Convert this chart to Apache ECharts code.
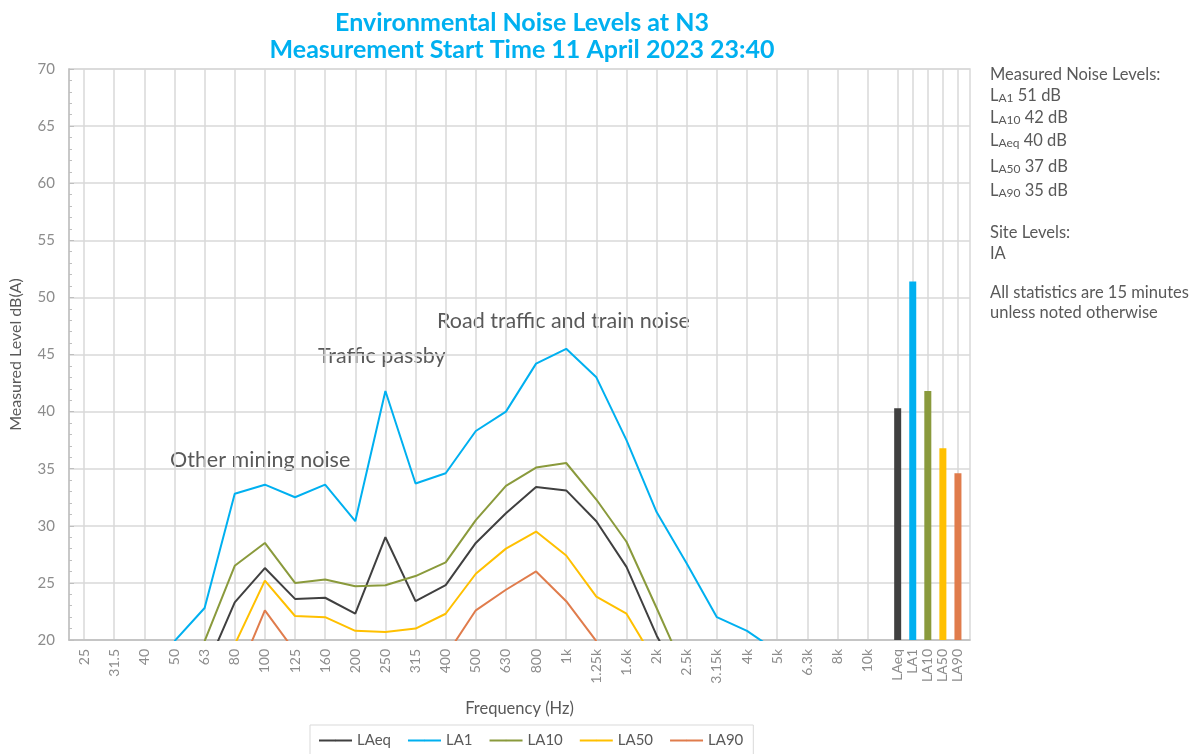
<!DOCTYPE html>
<html>
<head>
<meta charset="utf-8">
<script src="https://cdn.jsdelivr.net/npm/echarts@6/dist/echarts.min.js"></script>
<style>html,body{margin:0;padding:0;background:#fff}#c{width:1194px;height:754px}</style>
</head>
<body>
<div id="c"></div>
<script>
// ---- data ----
const freqLabels = ['25','31.5','40','50','63','80','100','125','160','200','250','315','400','500','630','800','1k','1.25k','1.6k','2k','2.5k','3.15k','4k','5k','6.3k','8k','10k'];
const statLabels = ['LAeq','LA1','LA10','LA50','LA90'];
const yTicks = [20,25,30,35,40,45,50,55,60,65,70];

const LAeq = [null,null,null,null,17.2,23.3,26.3,23.6,23.7,22.3,29.0,23.4,24.8,28.5,31.1,33.4,33.1,30.4,26.4,20.4,15.5,null,null,null,null,null,null];
const LA1  = [null,null,null,19.9,22.8,32.8,33.6,32.5,33.6,30.4,41.8,33.7,34.6,38.3,40.0,44.2,45.5,43.0,37.5,31.2,26.7,22.0,20.8,19.0,null,null,null];
const LA10 = [null,null,null,null,19.9,26.5,28.5,25.0,25.3,24.7,24.8,25.6,26.8,30.5,33.5,35.1,35.5,32.3,28.6,22.8,16.9,null,null,null,null,null,null];
const LA50 = [null,null,null,null,null,19.6,25.2,22.1,22.0,20.8,20.7,21.0,22.3,25.8,28.0,29.5,27.4,23.8,22.3,17.9,null,null,null,null,null,null,null];
const LA90 = [null,null,null,null,null,16.3,22.6,19.0,null,null,null,null,18.6,22.6,24.4,26.0,23.4,19.9,null,null,null,null,null,null,null,null,null];
const statValues = [40.3,51.4,41.8,36.8,34.6];

const seriesNames = ['LAeq','LA1','LA10','LA50','LA90'];
const seriesData = [LAeq, LA1, LA10, LA50, LA90];
const colors = ['#404040','#00b0f0','#8a9a3c','#ffc000','#e07c4c'];

// ---- positions on the x scale (category index based) ----
const freqPos = freqLabels.map((_, i) => i + 1);
const statPos = statLabels.map((_, i) => freqLabels.length + 1 + i * 0.5);
const labelAt = {};
freqPos.forEach((p, i) => labelAt[p] = freqLabels[i]);
statPos.forEach((p, i) => labelAt[p] = statLabels[i]);
const tickVals = freqPos.concat(statPos);

const chart = echarts.init(document.getElementById('c'));
const gray = '#595959';
const FONT = 'Lato';

const lineSeries = seriesNames.map((n, k) => ({
  name: n, type: 'line', symbol: 'none', clip: true, connectNulls: false,
  lineStyle: { color: colors[k], width: 2 }, itemStyle: { color: colors[k] },
  data: seriesData[k].map((v, i) => [freqPos[i], v == null ? '-' : v]),
  z: 3
}));

const barSeries = {
  name: 'stats', type: 'bar', barWidth: 7, clip: true,
  data: statValues.map((v, i) => ({ value: [statPos[i], v], itemStyle: { color: colors[i] } })),
  z: 2
};

function statLine(label, sub, val, y) {
  return { type: 'text', left: 990, top: y, style: {
    text: '{l|' + label + '}{s|' + sub + '}{v| ' + val + '}',
    rich: {
      l: { fontSize: 16.5, fontFamily: FONT, fill: gray, verticalAlign: 'bottom', lineHeight: 20 },
      s: { fontSize: 12, fontFamily: FONT, fill: gray, verticalAlign: 'bottom', lineHeight: 15 },
      v: { fontSize: 16.5, fontFamily: FONT, fill: gray, verticalAlign: 'bottom', lineHeight: 20 }
    }
  }};
}

const option = {
  animation: false,
  backgroundColor: '#ffffff',
  textStyle: { fontFamily: FONT },
  title: {
    text: 'Environmental Noise Levels at N3\nMeasurement Start Time 11 April 2023 23:40',
    left: 517, top: 4, textAlign: 'center',
    textStyle: { color: '#00b0f0', fontSize: 25, fontWeight: 'bold', fontFamily: FONT, lineHeight: 27 }
  },
  legend: {
    data: seriesNames, bottom: -4, left: 310,
    itemWidth: 33, itemHeight: 2, itemGap: 16,
    borderColor: '#d9d9d9', borderWidth: 1, padding: [8, 10, 10, 8],
    textStyle: { color: gray, fontSize: 15, fontFamily: FONT }
  },
  grid: { left: 63, right: 224, top: 69, bottom: 114, show: true, borderColor: '#d9d9d9', borderWidth: 1.5 },
  xAxis: {
    type: 'value', min: 0.5, max: 30.4,
    name: 'Frequency (Hz)', nameLocation: 'middle', nameGap: 60,
    nameTextStyle: { color: gray, fontSize: 16.5, fontFamily: FONT },
    axisLine: { show: true, lineStyle: { color: '#bfbfbf', width: 1.5 } },
    axisTick: { show: false, customValues: tickVals },
    axisLabel: { customValues: tickVals, rotate: 90, color: '#8c8c8c', fontSize: 14, fontFamily: FONT, margin: 9,
      formatter: v => labelAt[v] !== undefined ? labelAt[v] : '' },
    splitLine: { show: true, lineStyle: { color: '#d9d9d9', width: 1.5 } }
  },
  yAxis: {
    type: 'value', min: yTicks[0], max: yTicks[yTicks.length - 1], interval: 5,
    name: 'Measured Level dB(A)', nameLocation: 'middle', nameGap: 45,
    nameTextStyle: { color: gray, fontSize: 16, fontFamily: FONT },
    axisLine: { show: true, lineStyle: { color: '#bfbfbf', width: 1.5 } },
    axisTick: { show: true, inside: true, length: 5, lineStyle: { color: '#bfbfbf' } },
    minorTick: { show: true, splitNumber: 5, length: 3, lineStyle: { color: '#bfbfbf' } },
    axisLabel: { color: '#8c8c8c', fontSize: 15, fontFamily: FONT, margin: 14 },
    splitLine: { show: true, lineStyle: { color: '#d9d9d9', width: 1.5 } }
  },
  graphic: [
    { type: 'text', left: 170, top: 449, style: { text: 'Other mining noise', fontSize: 21.5, fontFamily: FONT, fill: gray } },
    { type: 'text', left: 318, top: 345, style: { text: 'Traffic passby', fontSize: 21.5, fontFamily: FONT, fill: gray } },
    { type: 'text', left: 437, top: 310, style: { text: 'Road traffic and train noise', fontSize: 21.5, fontFamily: FONT, fill: gray } },
    { type: 'text', left: 990, top: 66, style: { text: 'Measured Noise Levels:', fontSize: 16.5, fontFamily: FONT, fill: gray } },
    statLine('L', 'A1', '51 dB', 87),
    statLine('L', 'A10', '42 dB', 109),
    statLine('L', 'Aeq', '40 dB', 132),
    statLine('L', 'A50', '37 dB', 158),
    statLine('L', 'A90', '35 dB', 182),
    { type: 'text', left: 990, top: 222, style: { text: 'Site Levels:\nIA', fontSize: 16.5, lineHeight: 21, fontFamily: FONT, fill: gray } },
    { type: 'text', left: 990, top: 283, style: { text: 'All statistics are 15 minutes\nunless noted otherwise', fontSize: 16.5, lineHeight: 20, fontFamily: FONT, fill: gray } }
  ],
  series: lineSeries.concat([barSeries])
};
chart.setOption(option);
</script>
</body>
</html>
